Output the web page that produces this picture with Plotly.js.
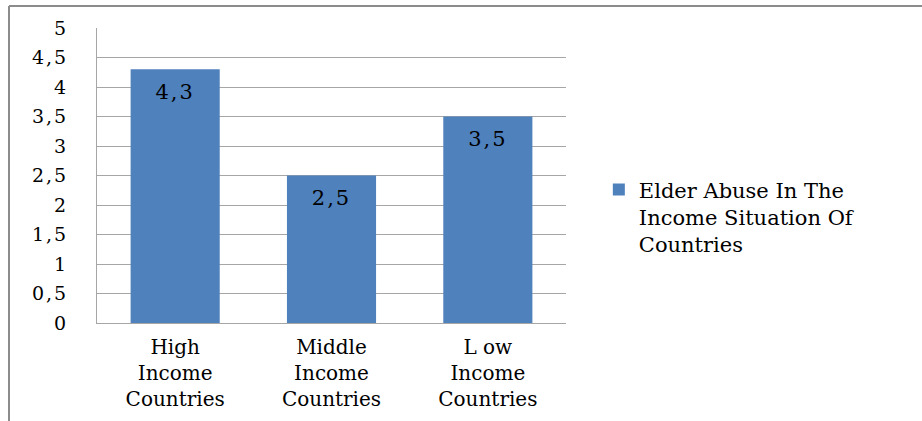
<!DOCTYPE html>
<html>
<head>
<meta charset="utf-8">
<script src="https://cdn.plot.ly/plotly-3.0.1.min.js"></script>
<style>
html,body{margin:0;padding:0;background:#fff;}
#chart{width:922px;height:421px;}
#chart .ytick text{letter-spacing:2px;}
#chart .textpoint text{letter-spacing:2px;}
</style>
</head>
<body>
<div id="chart"></div>
<script>
const categories = ["High<br>Income<br>Countries", "Middle<br>Income<br>Countries", "L ow<br>Income<br>Countries"];
const values = [4.3, 2.5, 3.5];
const seriesName = "Elder Abuse In The<br>Income Situation Of<br>Countries";
const yTicks = [0, 0.5, 1, 1.5, 2, 2.5, 3, 3.5, 4, 4.5, 5];

const font = "DejaVu Serif";

const bars = {
  type: "bar",
  x: categories,
  y: values,
  name: seriesName,
  marker: {color: "#4f81bd"},
  showlegend: true,
  hoverinfo: "none"
};

const labels = {
  type: "scatter",
  mode: "markers+text",
  x: categories,
  y: values,
  text: values.map(v => v.toFixed(1).replace(".", ",")),
  textposition: "bottom center",
  textfont: {family: font, size: 21, color: "#000"},
  marker: {size: 20, color: "rgba(0,0,0,0)"},
  showlegend: false,
  hoverinfo: "none",
  cliponaxis: false
};

const layout = {
  width: 922, height: 421,
  margin: {l: 97, r: 356, t: 28, b: 98, pad: 0},
  paper_bgcolor: "#fff",
  plot_bgcolor: "#fff",
  separators: ", ",
  bargap: 0.43,
  font: {family: font, color: "#000"},
  xaxis: {
    type: "category",
    showgrid: false,
    showline: true, linecolor: "#a6a6a6", linewidth: 1,
    ticks: "", tickfont: {family: font, size: 20, color: "#000"},
    ticklabelstandoff: 6,
    fixedrange: true
  },
  yaxis: {
    range: [0, 5],
    tickvals: yTicks,
    ticktext: yTicks.map(v => String(v).replace(".", ",")),
    showgrid: true, gridcolor: "#a6a6a6", gridwidth: 1,
    showline: true, linecolor: "#a6a6a6", linewidth: 1,
    zeroline: false,
    ticks: "", tickfont: {family: font, size: 19, color: "#000"},
    ticklabelstandoff: 24,
    fixedrange: true
  },
  showlegend: true,
  legend: {
    x: 1.07, y: 0.36, xanchor: "left", yanchor: "middle",
    valign: "top",
    font: {family: font, size: 21, color: "#000"},
    bgcolor: "rgba(0,0,0,0)",
    itemwidth: 30
  },
  shapes: [
    {type: "line", xref: "paper", yref: "paper",
     x0: (9 - 97) / 469, x1: (9 - 97) / 469, y0: (323 - 6) / 295, y1: (323 - 425) / 295,
     line: {color: "#8c8c8c", width: 2}},
    {type: "line", xref: "paper", yref: "paper",
     x0: (9 - 97) / 469, x1: (922 - 97) / 469, y0: (323 - 6) / 295, y1: (323 - 6) / 295,
     line: {color: "#8c8c8c", width: 2}}
  ]
};

Plotly.newPlot("chart", [bars, labels], layout, {displayModeBar: false, staticPlot: true});
</script>
</body>
</html>
